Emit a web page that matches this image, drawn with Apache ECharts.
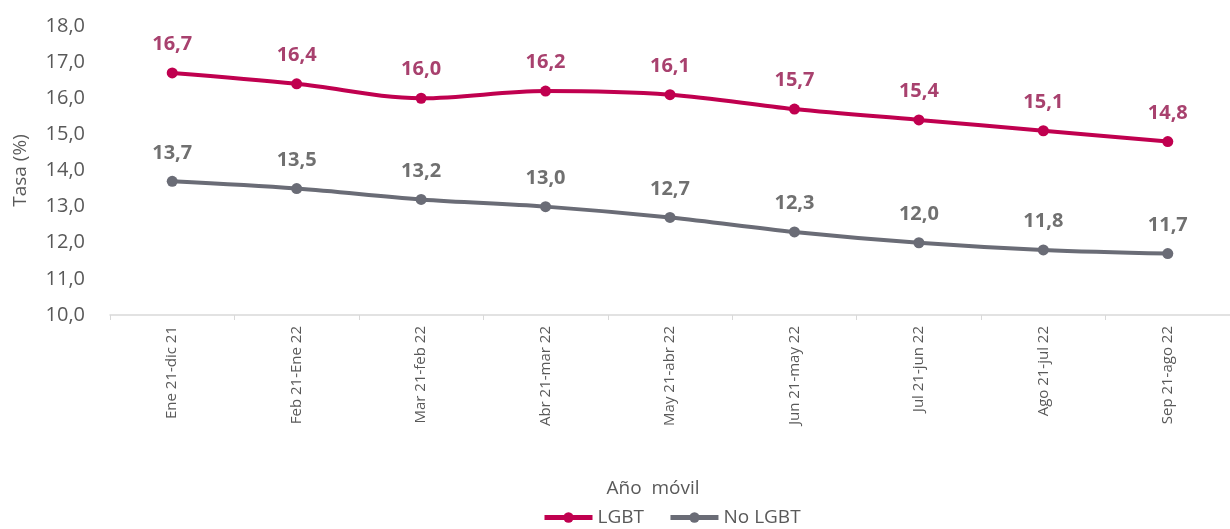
<!DOCTYPE html>
<html>
<head>
<meta charset="utf-8">
<script src="https://cdn.jsdelivr.net/npm/echarts@6/dist/echarts.min.js"></script>
<style>
	html, body { margin: 0; padding: 0; background: #fff; }
	#chart { width: 1230px; height: 529px; }
</style>
</head>
<body>
<div id="chart"></div>
<script>
'use strict';
var categories = ['Ene 21-dic 21', 'Feb 21-Ene 22', 'Mar 21-feb 22', 'Abr 21-mar 22', 'May 21-abr 22',
	'Jun 21-may 22', 'Jul 21-jun 22', 'Ago 21-jul 22', 'Sep 21-ago 22'];
var lgbt = [16.7, 16.4, 16.0, 16.2, 16.1, 15.7, 15.4, 15.1, 14.8];
var noLgbt = [13.7, 13.5, 13.2, 13.0, 12.7, 12.3, 12.0, 11.8, 11.7];

var FONT = '"Open Sans", "Noto Sans", sans-serif';

function coma(v, d) {
	return v.toFixed(d).replace('.', ',');
}

function serie(name, data, lineColor, labelColor) {
	return {
		name: name,
		type: 'line',
		data: data,
		smooth: 0.35,
		symbol: 'circle',
		symbolSize: 11,
		itemStyle: { color: lineColor },
		lineStyle: { color: lineColor, width: 4 },
		label: {
			show: true,
			position: 'top',
			distance: 13,
			color: labelColor,
			fontFamily: FONT,
			fontWeight: 'bold',
			fontSize: 20,
			formatter: function (p) { return coma(p.value, 1); }
		}
	};
}

var option = {
	animation: false,
	grid: { left: 110, right: -13, top: 26, bottom: 214, containLabel: false },
	legend: {
		bottom: -3,
		left: 537,
		itemWidth: 48,
		itemHeight: 13,
		itemGap: 24,
		lineStyle: { width: 5 },
		textStyle: { color: '#595959', fontSize: 19, fontFamily: FONT },
		data: ['LGBT', 'No LGBT']
	},
	xAxis: {
		type: 'category',
		data: categories,
		name: 'Año  móvil',
		nameLocation: 'middle',
		nameGap: 164,
		nameTextStyle: { color: '#595959', fontSize: 19, fontFamily: FONT, padding: [0, 34, 0, 0] },
		axisLine: { lineStyle: { color: '#D9D9D9', width: 1.5 } },
		axisTick: { show: true, lineStyle: { color: '#D9D9D9' }, length: 5 },
		axisLabel: {
			rotate: 90,
			interval: 0,
			margin: 11,
			color: '#595959',
			fontSize: 15,
			fontFamily: FONT
		}
	},
	yAxis: {
		type: 'value',
		min: 10,
		max: 18,
		interval: 1,
		name: 'Tasa (%)',
		nameLocation: 'middle',
		nameGap: 80,
		nameTextStyle: { color: '#595959', fontSize: 19, fontFamily: FONT },
		axisLine: { show: false },
		axisTick: { show: false },
		splitLine: { show: false },
		axisLabel: {
			margin: 25,
			color: '#595959',
			fontSize: 20,
			fontFamily: FONT,
			formatter: function (v) { return coma(v, 1); }
		}
	},
	series: [
		serie('LGBT', lgbt, '#C0004F', '#A8416E'),
		serie('No LGBT', noLgbt, '#6A6C76', '#707070')
	]
};

var chart = echarts.init(document.getElementById('chart'));
chart.setOption(option);
</script>
</body>
</html>
